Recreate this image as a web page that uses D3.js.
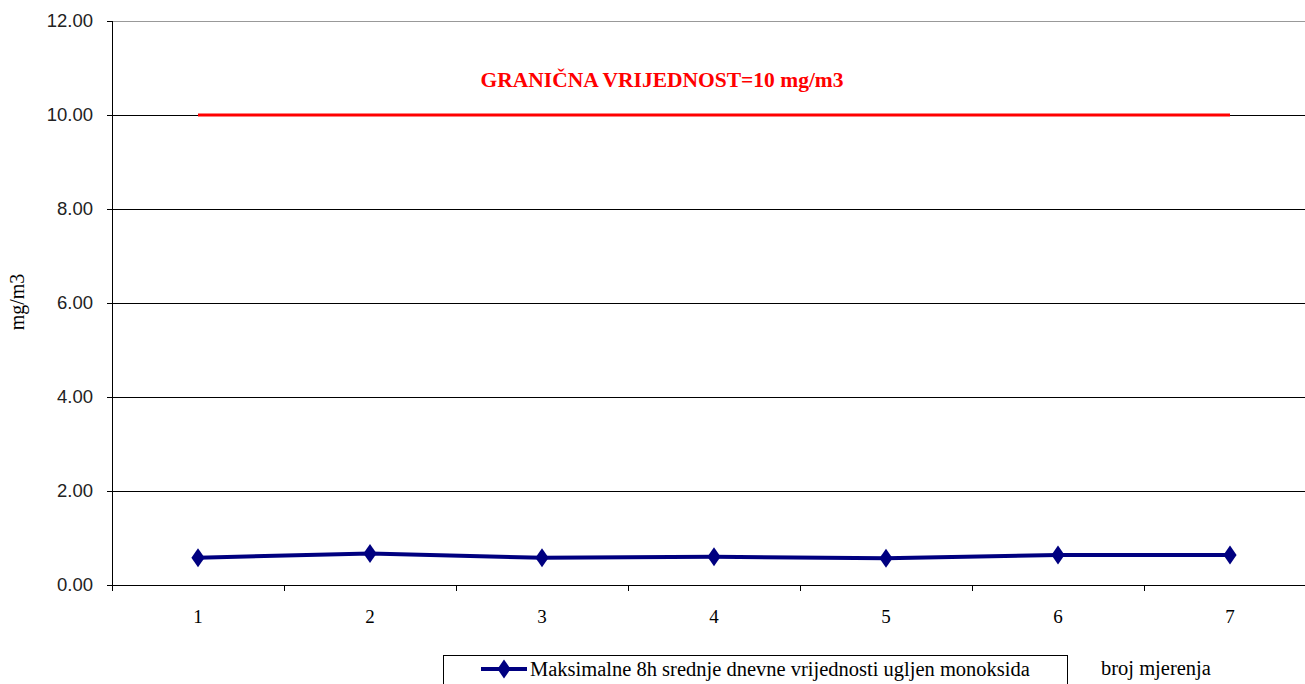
<!DOCTYPE html>
<html>
<head>
<meta charset="utf-8">
<script src="https://cdn.jsdelivr.net/npm/d3@7"></script>
<style>
  body { margin: 0; background: #fff; }
  svg { display: block; }
  text { font-family: "Liberation Serif", "Times New Roman", serif; }
</style>
</head>
<body>
<div id="chart"></div>
<script>
// chart data
var categories = [1, 2, 3, 4, 5, 6, 7];
var coValues = [0.58, 0.67, 0.58, 0.60, 0.57, 0.64, 0.64];
var limitValues = [10, 10, 10, 10, 10, 10, 10];
var yTicks = [0, 2, 4, 6, 8, 10, 12];
var seriesName = "Maksimalne 8h srednje dnevne vrijednosti ugljen monoksida";
var limitLabel = "GRANIČNA VRIJEDNOST=10 mg/m3";
var xTitle = "broj mjerenja";
var yTitle = "mg/m3";

var margin = { top: 21, right: -11, bottom: 99, left: 112 };
var W = 1305, H = 684;
var width = W - margin.left - margin.right;
var height = H - margin.top - margin.bottom;

var svg = d3.select("#chart").append("svg")
    .attr("width", W)
    .attr("height", H);
var g = svg.append("g")
    .attr("transform", "translate(" + margin.left + "," + margin.top + ")");

var x = d3.scaleBand().domain(categories).range([0, width]).padding(0);
var y = d3.scaleLinear().domain([0, 12]).range([height, 0]);
var cx = function(d) { return x(d) + x.bandwidth() / 2; };

// gridlines
g.selectAll(".grid").data(yTicks.filter(function(t) { return t > 0; }))
  .enter().append("line")
    .attr("x1", 0).attr("x2", width)
    .attr("y1", function(d) { return Math.round(y(d)) + 0.5; })
    .attr("y2", function(d) { return Math.round(y(d)) + 0.5; })
    .attr("stroke", function(d) { return d === 12 ? "#999" : "#000"; })
    .attr("stroke-width", 1);

// y axis
var yAxis = g.append("g")
    .call(d3.axisLeft(y).tickValues(yTicks).tickSize(5).tickPadding(14)
      .tickFormat(d3.format(".2f")));
yAxis.select(".domain").remove();
yAxis.append("line").attr("x1", 0.5).attr("x2", 0.5).attr("y1", 0).attr("y2", height).attr("stroke", "#000");
yAxis.selectAll("text").attr("fill", "#222")
  .style("font-family", "'Liberation Sans', sans-serif").attr("font-size", 18.5);

// x axis
var xAxis = g.append("g")
    .attr("transform", "translate(0," + height + ")")
    .call(d3.axisBottom(x).tickSize(0).tickPadding(25));
xAxis.select(".domain").attr("stroke", "#000");
xAxis.selectAll("text").attr("font-size", 19).attr("fill", "#000");
g.append("g").selectAll("line").data(categories.concat([null]))
  .enter().append("line")
    .attr("x1", function(d, i) { return Math.round(i * x.bandwidth()) + 0.5; })
    .attr("x2", function(d, i) { return Math.round(i * x.bandwidth()) + 0.5; })
    .attr("y1", height).attr("y2", height + 6)
    .attr("stroke", "#000");

// limit line
var line = d3.line().x(function(d, i) { return cx(categories[i]); }).y(function(d) { return y(d); });
g.append("path").datum(limitValues)
    .attr("d", line)
    .attr("fill", "none")
    .attr("stroke", "#ff0000")
    .attr("stroke-width", 3);

g.append("text")
    .attr("x", (cx(1) + cx(7)) / 2 - 52)
    .attr("y", y(10) - 28)
    .attr("text-anchor", "middle")
    .attr("font-size", 21.5)
    .attr("font-weight", "bold")
    .attr("fill", "#ff0000")
    .text(limitLabel);

// CO series
g.append("path").datum(coValues)
    .attr("d", line)
    .attr("fill", "none")
    .attr("stroke", "#000080")
    .attr("stroke-width", 4);

var diamond = d3.symbol().type(d3.symbolDiamond).size(105);
g.selectAll(".pt").data(coValues).enter().append("path")
    .attr("d", diamond)
    .attr("transform", function(d, i) { return "translate(" + cx(categories[i]) + "," + y(d) + ") scale(1.2,1)"; })
    .attr("fill", "#000080");

// y title
svg.append("text")
    .attr("transform", "translate(24,302) rotate(-90)")
    .attr("text-anchor", "middle")
    .attr("font-size", 20)
    .text(yTitle);

// x title
svg.append("text")
    .attr("x", 1101).attr("y", 675)
    .attr("font-size", 20.5)
    .text(xTitle);

// legend
var leg = svg.append("g").attr("transform", "translate(443,655)");
leg.append("rect").attr("x", 0.5).attr("y", 0.5).attr("width", 624).attr("height", 40)
    .attr("fill", "#fff").attr("stroke", "#000");
leg.append("line").attr("x1", 38).attr("x2", 84).attr("y1", 14).attr("y2", 14)
    .attr("stroke", "#000080").attr("stroke-width", 4);
leg.append("path").attr("d", diamond)
    .attr("transform", "translate(61,14) scale(1.2,1)")
    .attr("fill", "#000080");
leg.append("text").attr("x", 87).attr("y", 21).attr("font-size", 20.5).text(seriesName);
</script>
</body>
</html>
